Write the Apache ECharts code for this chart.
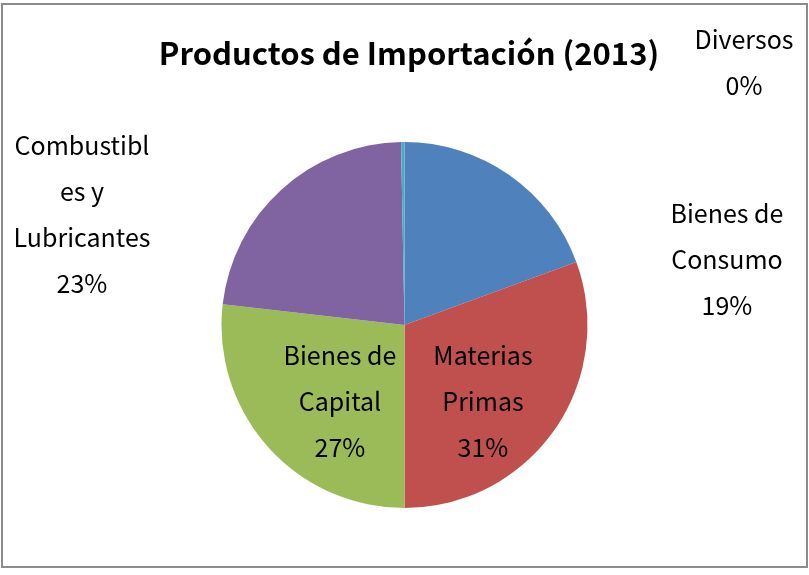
<!DOCTYPE html>
<html>
<head>
<meta charset="utf-8">
<script src="https://cdn.jsdelivr.net/npm/echarts@6/dist/echarts.min.js"></script>
<style>
  html, body { margin: 0; padding: 0; background: #fff; }
  #main { width: 809px; height: 575px; }
</style>
</head>
<body>
<div id="main"></div>
<script>
// datos (porcentaje)
const categories = ['Bienes de Consumo', 'Materias Primas', 'Bienes de Capital', 'Combustibles y Lubricantes', 'Diversos']
const values = [19.4, 30.6, 26.8, 22.9, 0.3]
const labelLines = {
  'Bienes de Consumo': 'Bienes de\nConsumo',
  'Materias Primas': 'Materias\nPrimas',
  'Bienes de Capital': 'Bienes de\nCapital',
  'Combustibles y Lubricantes': 'Combustibl\nes y\nLubricantes',
  'Diversos': 'Diversos'
}
const colors = ['#4F81BD', '#C0504D', '#9BBB59', '#8064A2', '#4BACC6']
// posicion de cada etiqueta (centro del bloque de texto)
const labelPos = [[727, 259], [483, 401], [340, 401], [82, 214], [744, 62]]

const font = '"Noto Sans CJK KR", "Noto Sans", sans-serif'
const chart = echarts.init(document.getElementById('main'))
const option = {
  animation: false,
  color: colors,
  title: {
    text: 'Productos de Importación (2013)',
    left: 404,
    top: 33,
    textAlign: 'center',
    textStyle: { fontFamily: font, fontSize: 31, fontWeight: 'bold', color: '#000' }
  },
  graphic: [{
    type: 'rect',
    shape: { x: 2, y: 4, width: 805, height: 563 },
    style: { fill: null, stroke: '#8c8c8c', lineWidth: 2 },
    silent: true
  }],
  series: [{
    type: 'pie',
    center: [404.5, 325],
    radius: 183,
    startAngle: 90,
    clockwise: true,
    silent: true,
    emphasis: { disabled: true },
    itemStyle: { borderWidth: 0 },
    labelLine: { show: false },
    label: {
      show: true,
      position: 'outside',
      fontFamily: font,
      fontSize: 25,
      lineHeight: 46,
      color: '#000',
      align: 'center',
      formatter: function(p) {
        return labelLines[p.name] + '\n' + Math.round(p.percent) + '%'
      }
    },
    labelLayout: function(params) {
      const pos = labelPos[params.dataIndex]
      return { x: pos[0], y: pos[1], align: 'center', verticalAlign: 'middle' }
    },
    data: categories.map(function(c, i) { return { name: c, value: values[i] } })
  }]
}
chart.setOption(option)
</script>
</body>
</html>
